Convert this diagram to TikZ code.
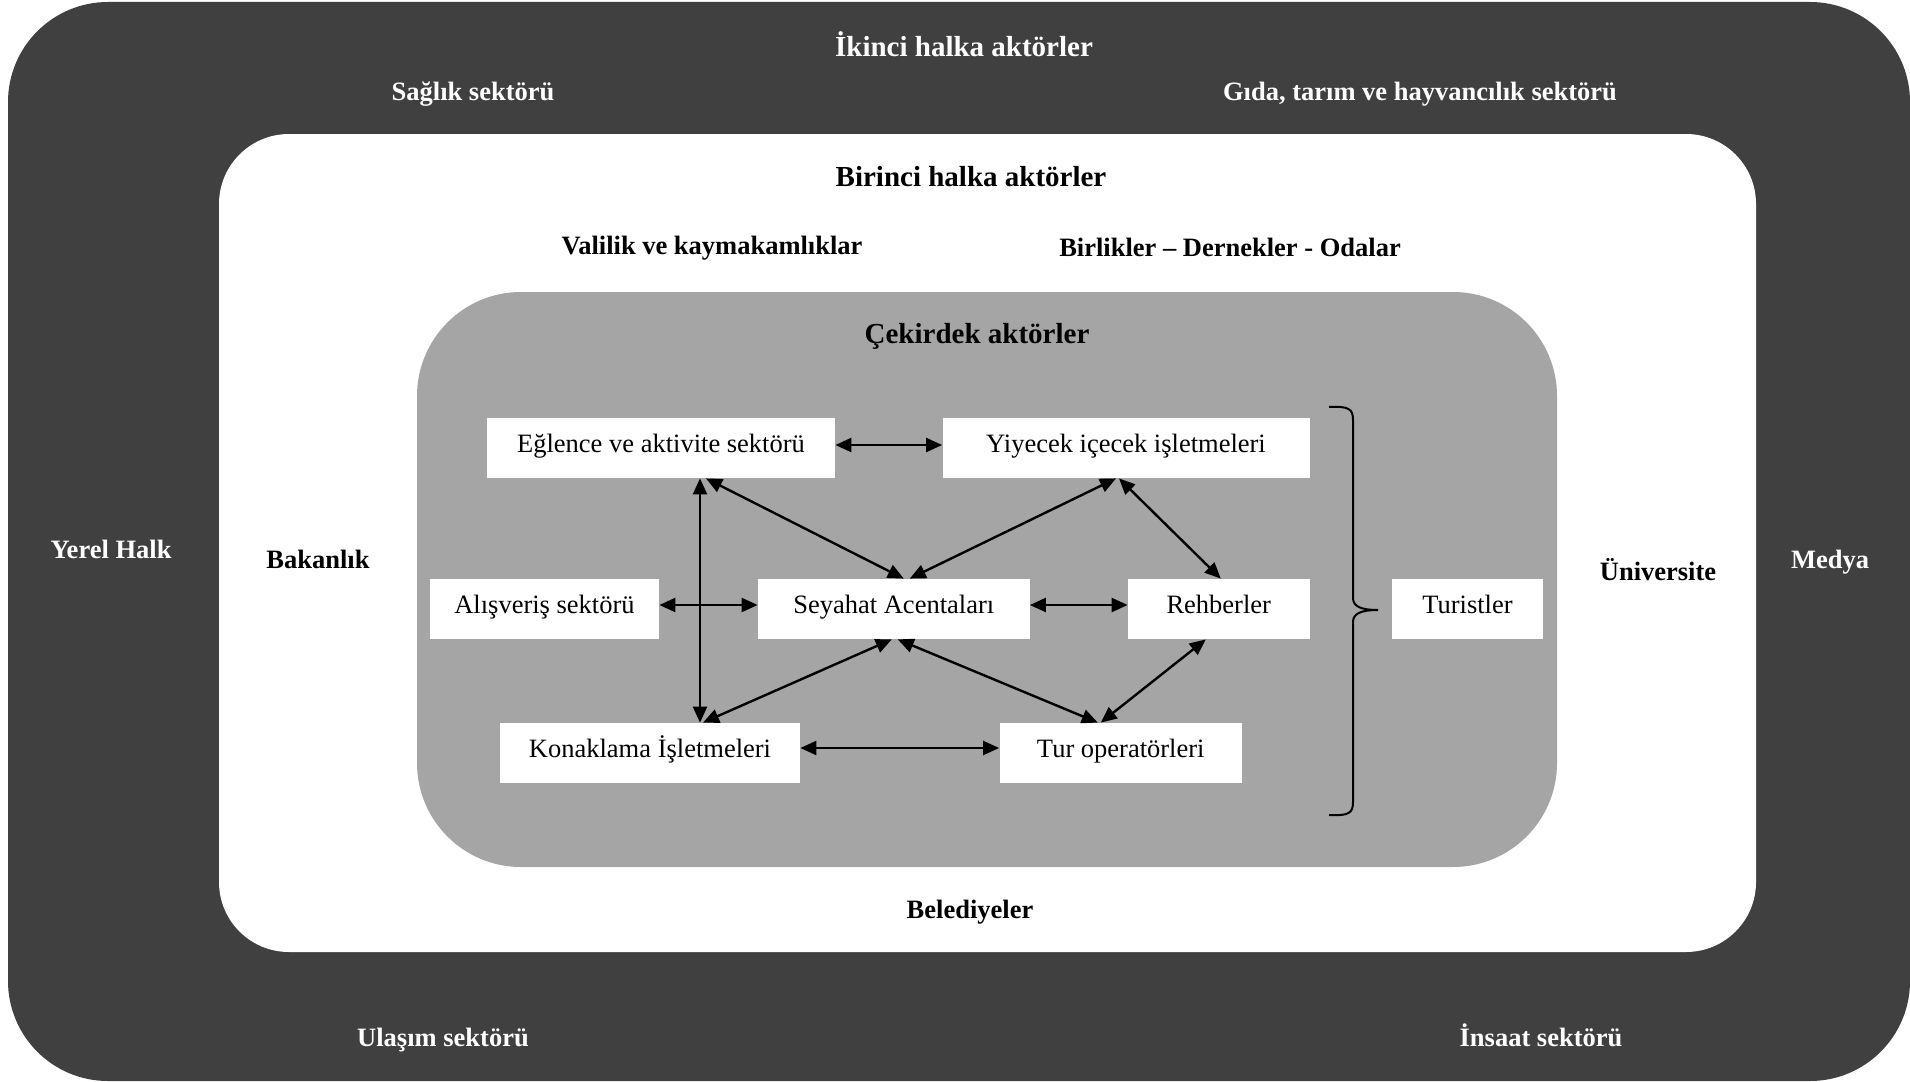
\documentclass[tikz,border=0pt]{standalone}
\usepackage{fontspec}
\setmainfont{Liberation Serif}
\usetikzlibrary{arrows.meta}
\definecolor{ringdark}{HTML}{404040}
\definecolor{coregray}{HTML}{A5A5A5}
\begin{document}
\begin{tikzpicture}[x=0.5pt,y=-0.5pt,
  actor/.style={fill=white, inner sep=0pt, minimum height=30pt,
    text height=0.7em, text depth=0.25em,
    font=\fontsize{13.25pt}{15pt}\selectfont},
  link/.style={{Triangle[length=8pt,width=7pt]}-{Triangle[length=8pt,width=7pt]},
    line width=1.2pt, black},
  head/.style={anchor=base, inner sep=0pt,
    font=\fontsize{14.5pt}{17pt}\selectfont\bfseries},
  lbl/.style={anchor=base, inner sep=0pt,
    font=\fontsize{13.25pt}{15pt}\selectfont\bfseries},
  ondark/.style={text=white},
  bracket/.style={line width=1pt, black}]

% canvas
\fill[white] (0,0) rectangle (1910,1081);

% the three rings of actors
\fill[ringdark, rounded corners=50pt] (8,2) rectangle (1910,1081);
\fill[white, rounded corners=35pt] (219,134) rectangle (1756,952);
\fill[coregray, rounded corners=52pt] (417,292) rectangle (1557,867);

% second ring (outer)
\node[head, ondark] (ring2) at (964,57) {İkinci halka aktörler};
\node[lbl, ondark] (saglik) at (473,101) {Sağlık sektörü};
\node[lbl, ondark] (gida) at (1420,101) {Gıda, tarım ve hayvancılık sektörü};
\node[lbl, ondark] (yerel) at (111,558) {Yerel Halk};
\node[lbl, ondark] (medya) at (1830,568) {Medya};
\node[lbl, ondark] (ulasim) at (443,1046) {Ulaşım sektörü};
\node[lbl, ondark] (insaat) at (1541,1046) {İnsaat sektörü};

% first ring
\node[head] (ring1) at (971,186) {Birinci halka aktörler};
\node[lbl] (valilik) at (712,254) {Valilik ve kaymakamlıklar};
\node[lbl] (birlik) at (1230,256) {Birlikler – Dernekler - Odalar};
\node[lbl] (bakan) at (318,568) {Bakanlık};
\node[lbl] (univ) at (1658,580) {Üniversite};
\node[lbl] (beled) at (970,918) {Belediyeler};

% core
\node[head] (core) at (977,343) {Çekirdek aktörler};

\node[actor, minimum width=174pt] (egl) at (661,448) {Eğlence ve aktivite sektörü};
\node[actor, minimum width=183.5pt] (yiy) at (1126,448) {Yiyecek içecek işletmeleri};
\node[actor, minimum width=114.5pt] (alis) at (544.5,609) {Alışveriş sektörü};
\node[actor, minimum width=135.75pt] (sey) at (893.75,609) {Seyahat Acentaları};
\node[actor, minimum width=90.75pt] (reh) at (1218.75,609) {Rehberler};
\node[actor, minimum width=150pt] (kon) at (650,753) {Konaklama İşletmeleri};
\node[actor, minimum width=121.25pt] (tur) at (1120.75,753) {Tur operatörleri};
\node[actor, minimum width=75.5pt] (tst) at (1467.5,609) {Turistler};

% two-way links between core actors
\draw[link] ([yshift=1.5pt]egl.east) -- ([yshift=1.5pt]yiy.west);
\draw[link] ([yshift=2pt]alis.east) -- ([yshift=2pt]sey.west);
\draw[link] ([yshift=2pt]sey.east) -- ([yshift=2pt]reh.west);
\draw[link] ([yshift=2.5pt]kon.east) -- ([yshift=2.5pt]tur.west);
\draw[link] ([xshift=19.5pt]egl.south) -- ([xshift=25pt]kon.north);
\draw[link] ([xshift=22.5pt]egl.south) -- ([xshift=5pt]sey.north);
\draw[link] ([xshift=-5pt]yiy.south) -- ([xshift=8pt]sey.north);
\draw[link] ([xshift=-3.5pt]yiy.south) -- ([xshift=1pt]reh.north);
\draw[link] ([xshift=-1pt]sey.south) -- ([xshift=26.5pt]kon.north);
\draw[link] ([xshift=2pt]sey.south) -- ([xshift=-11.5pt]tur.north);
\draw[link] ([xshift=-6.5pt]reh.south) -- ([xshift=-10pt]tur.north);

% brace gathering the core actors towards the tourists
\draw[bracket] (1329,407) .. controls (1349,406) and (1353,409) .. (1353,420)
  -- (1353,598) .. controls (1353,606) and (1360,610) .. (1378,610)
  .. controls (1360,610) and (1353,614) .. (1353,622)
  -- (1353,802) .. controls (1353,813) and (1349,816) .. (1329,815);
\end{tikzpicture}
\end{document}
